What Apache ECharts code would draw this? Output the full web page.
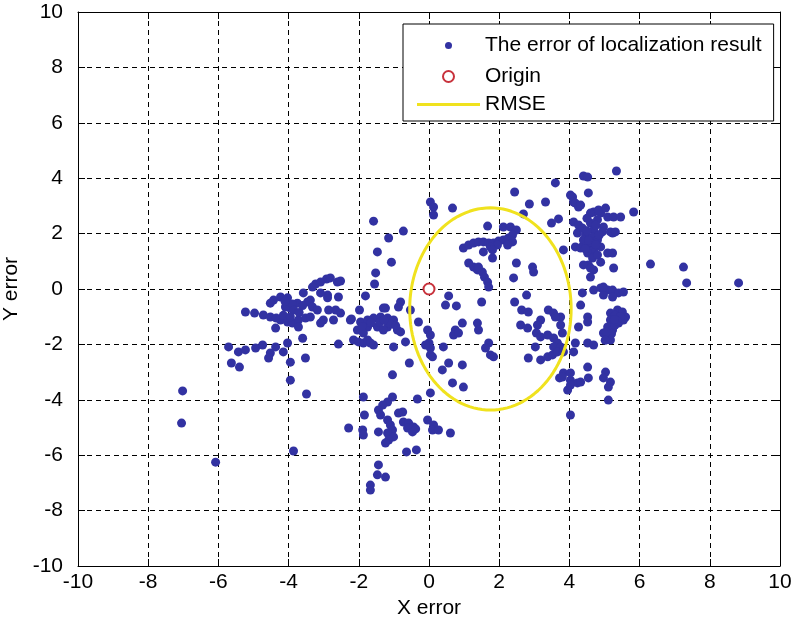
<!DOCTYPE html>
<html>
<head>
<meta charset="utf-8">
<script src="https://cdn.jsdelivr.net/npm/echarts@6/dist/echarts.min.js"></script>
<style>
  html, body { margin: 0; padding: 0; background: #fff; }
  #chart { width: 795px; height: 625px; }
</style>
</head>
<body>
<div id="chart"></div>
<script>
// localization error samples, grouped by region
var leftOutliers = [
  [-7.02,-3.68],[-7.05,-4.84],[-6.08,-6.25],[-3.95,-3.29],[-3.49,-3.79],[-3.86,-5.85]
];
var leftCluster = [
  [-5.71,-2.09],[-5.43,-2.27],[-5.23,-2.20],[-4.94,-2.13],[-4.74,-2.02],[-4.52,-2.31],[-4.37,-2.09],[-4.57,-2.49],
  [-4.03,-1.95],[-4.15,-2.27],[-3.95,-2.64],[-3.52,-2.49],[-5.63,-2.67],[-5.40,-2.82],[-2.58,-1.99],[-2.15,-1.84],
  [-5.23,-0.83],[-4.97,-0.87],[-4.72,-0.94],[-4.52,-1.01],[-4.23,-1.12],[-4.03,-1.19],[-3.89,-1.23],[-3.72,-1.12],
  [-3.52,-1.05],[-4.43,-0.40],[-4.23,-0.29],[-4.03,-0.32],[-3.95,-0.69],[-3.75,-0.51],[-3.58,-0.14],[-3.38,-0.40],
  [-4.52,-0.51],[-4.09,-0.65],[-3.89,-0.54],[-3.46,-0.47],[-3.32,-0.65],[-3.18,-0.76],[-3.86,-0.76],[-3.72,-1.37],
  [-3.38,-1.01],[-4.37,-1.41],[-3.60,-1.78],[-3.01,-1.12],[-3.09,-1.23],[-2.89,-0.22],[-3.09,-0.14],[-2.89,-0.32],
  [-2.66,-0.76],[-2.86,-0.76],[-2.72,-1.12],[-2.52,-0.87],[-2.21,-1.08],[-2.92,0.36],[-2.52,0.29],[-3.23,0.18],
  [-3.09,0.25],[-3.32,0.07],[-2.58,-0.29],[-2.61,0.25],[-2.81,0.40],
  [-4.35,-1.05],[-4.15,-0.95],[-3.70,-0.85],[-3.60,-0.60],[-4.10,-0.45],[-3.95,-1.00]
];
var centerLeft = [
  [-1.07,0.97],[-1.52,0.58],[-1.55,0.18],[-1.81,-0.25],[-0.81,-0.47],[-0.53,-0.76],[-1.24,-0.69],[-1.98,-0.76],
  [-2.24,-1.12],[-1.95,-1.19],[-1.75,-1.12],[-1.58,-1.05],[-1.38,-1.01],[-1.18,-1.05],[-1.01,-1.12],[-1.75,-1.37],
  [-1.47,-1.37],[-1.18,-1.37],[-0.90,-1.48],[-0.81,-1.55],[-2.04,-1.48],[-2.01,-1.91],[-1.87,-1.95],[-1.75,-1.84],
  [-1.58,-2.02],[-1.01,-2.09],[-0.67,-1.91],[-0.56,-2.67],[-1.04,-3.10],[-1.87,-1.59],[-1.67,-1.95],[-1.30,-1.48],
  [-0.87,-0.65],[-1.30,-0.69],[-1.58,2.45],[-0.73,2.09],[-1.15,1.84],[-1.47,1.34],[-0.30,-1.19],[-0.04,-1.48],
  [0.04,-1.66],[0.00,-1.95],[0.04,-2.13],[0.04,-2.38],[0.41,-2.09],[-0.10,-2.02],[0.10,-2.45],
  [-1.65,-1.22],[-1.40,-1.20],[-1.10,-1.25],[-0.95,-1.32],[-1.90,-1.35],[-1.28,-1.12]
];
var insideRmse = [
  [0.04,3.14],[0.13,2.96],[0.13,2.67],[0.67,2.92],[1.67,2.27],[2.12,2.24],[2.32,2.24],[2.49,2.13],
  [0.98,1.48],[1.13,1.59],[1.27,1.66],[1.41,1.70],[1.55,1.70],[1.70,1.66],[1.84,1.66],[1.98,1.73],
  [2.12,1.77],[2.26,1.84],[2.38,1.70],[1.95,1.59],[1.75,1.52],[2.24,1.59],[2.38,1.95],[1.55,1.34],
  [1.81,1.41],[1.81,1.12],[1.27,0.79],[1.38,0.69],[1.52,0.61],[1.58,0.43],[1.67,0.25],[1.70,0.07],
  [1.41,0.79],[1.13,0.94],[2.49,0.94],[2.95,0.79],[2.98,0.61],[2.41,0.40],[2.78,-0.22],[2.44,-0.47],
  [3.83,1.41],[3.60,3.83],[2.44,3.50],[2.86,3.07],[3.32,3.14],[2.69,2.71],[3.49,2.38],[3.69,2.53],
  [0.56,-0.25],[0.47,-0.58],[0.78,-0.61],[1.50,-0.47],[2.64,-0.76],[2.83,-0.83],[3.18,-1.12],[3.40,-0.76],
  [3.55,-0.87],[3.75,-1.01],[3.75,-1.30],[3.09,-1.30],[0.75,-1.48],[0.70,-1.66],[0.84,-1.59],[1.38,-1.23],
  [1.41,-1.48],[2.61,-1.30],[2.81,-1.41],[3.06,-1.59],[3.18,-1.73],[3.38,-1.66],[3.55,-1.77],[3.66,-1.95],
  [3.55,-2.09],[3.75,-2.09],[3.03,-2.09],[1.70,-1.95],[1.61,-2.13],[1.75,-2.38],[1.84,-2.45],[0.56,-2.67],
  [0.38,-2.92],[0.95,-2.74],[0.67,-3.39],[0.98,-3.54],[2.83,-2.49],[3.18,-2.56],[3.38,-2.45],[3.52,-2.38],
  [3.66,-2.27],[0.04,-3.75],[3.72,-3.21],[3.83,-3.03],[0.95,-1.23],[3.60,-1.01],[3.80,-1.59],[3.83,-2.27]
];
var bottomCluster = [
  [-1.87,-3.90],[-1.04,-3.90],[-1.18,-4.08],[-1.32,-4.19],[-1.44,-4.37],[-1.38,-4.55],[-0.33,-3.97],[-0.75,-4.44],
  [-0.87,-4.48],[-1.84,-4.55],[-1.18,-4.73],[-1.10,-4.91],[-1.04,-5.09],[-1.18,-5.20],[-1.01,-5.34],[-1.15,-5.45],
  [-1.24,-5.56],[-0.73,-4.80],[-0.58,-4.84],[-0.44,-4.98],[-0.61,-5.02],[-0.47,-5.16],[-0.38,-5.05],[-1.44,-5.16],
  [-0.04,-4.73],[0.13,-4.91],[0.10,-5.09],[0.27,-5.09],[0.61,-5.20],[-2.29,-5.02],[-1.89,-5.09],[-1.87,-5.27],
  [-0.64,-5.88],[-0.36,-5.81],[-1.44,-6.35],[-1.47,-6.71],[-1.24,-6.79],[-1.67,-7.08],[-1.67,-7.26]
];
var rightCluster = [
  [5.34,4.26],[4.40,4.08],[4.52,4.04],[5.83,2.78],[4.54,3.47],[4.03,3.39],[4.09,3.32],[4.12,3.14],
  [4.17,3.10],[4.26,2.96],[4.32,3.03],[4.69,2.78],[4.89,2.74],[5.09,2.60],[5.26,2.60],[5.46,2.60],
  [4.60,2.74],[4.83,2.85],[5.03,2.92],[4.12,2.42],[4.26,2.31],[4.60,2.38],[4.69,2.13],[4.97,2.24],
  [5.23,2.02],[4.23,2.02],[4.46,1.95],[4.66,1.88],[4.80,1.77],[4.37,2.20],[4.94,2.06],[5.17,2.06],
  [5.31,2.06],[4.17,1.52],[4.40,1.59],[4.54,1.52],[4.69,1.41],[4.89,1.52],[5.09,1.30],[5.23,1.30],
  [4.52,1.30],[4.66,1.12],[4.54,0.87],[4.69,0.69],[4.60,0.43],[5.26,0.76],[4.40,1.77],[4.60,1.70],
  [4.32,1.48],[4.80,1.23],[4.89,0.97],[4.40,0.87],[4.60,0.76],
  [4.50,2.55],[4.80,2.50],[4.75,2.30],[4.50,2.10],[4.85,1.95],[4.55,1.75],[4.75,1.60],[4.45,1.45],
  [4.37,-0.14],[4.32,-0.58],[4.69,-0.04],[4.89,0.04],[5.09,-0.04],[5.23,-0.04],[5.40,-0.14],[5.54,-0.11],
  [4.97,-0.22],[5.23,-0.29],[4.97,0.07],
  [4.52,-1.01],[5.17,-0.87],[5.37,-0.76],[5.51,-0.83],[5.60,-1.01],[5.37,-1.01],[5.17,-1.12],[5.09,-1.37],
  [4.97,-1.59],[5.23,-1.48],[5.40,-1.23],[5.54,-1.12],[5.09,-1.73],[5.17,-1.84],[4.26,-1.37],[4.17,-1.95],
  [4.52,-1.95],[4.69,-2.02],[4.12,-2.27],[4.52,-1.19],
  [5.30,-0.95],[5.45,-1.00],[5.30,-1.30],[5.20,-1.62],[5.05,-1.55],[5.35,-1.15],[5.02,-1.85],[5.28,-1.10],
  [4.52,-2.82],[5.03,-3.00],[4.97,-3.21],[5.17,-3.36],[5.11,-3.54],[4.03,-3.29],[4.23,-3.39],[3.95,-3.65],
  [3.80,-3.18],[4.03,-3.47],[4.32,-3.36],[4.03,-3.03],[4.54,-3.21],[5.11,-4.01],[4.03,-4.55]
];
var rightOutliers = [[6.31,0.90],[7.25,0.79],[7.34,0.22],[8.82,0.22]];

var originPoint = [[0, 0]];
// RMSE ellipse: centre and semi-axes
var rmseCenter = [1.75, -0.72];
var rmseRadius = [2.3, 3.65];

var axisMin = -10, axisMax = 10, axisStep = 2;

var errorPoints = [].concat(leftOutliers, leftCluster, centerLeft, insideRmse, bottomCluster, rightCluster, rightOutliers);

var rmseCurve = [];
for (var i = 0; i <= 120; i++) {
  var t = i / 120 * Math.PI * 2;
  rmseCurve.push([rmseCenter[0] + rmseRadius[0] * Math.cos(t), rmseCenter[1] + rmseRadius[1] * Math.sin(t)]);
}

var font = 'Liberation Sans, Arial, sans-serif';
var ink = '#000';
var dotBlue = '#3232a2';
var yellow = '#f0e21e';

function frameAxis(pos, main) {
  var ax = {
    type: 'value', min: axisMin, max: axisMax, interval: axisStep, position: pos,
    axisLine: { show: true, onZero: false, lineStyle: { color: ink, width: 1 } },
    axisTick: { show: true, inside: true, length: 7, lineStyle: { color: ink, width: 1 } },
    axisLabel: { show: false },
    splitLine: { show: false }
  };
  if (main) {
    ax.axisLabel = { show: true, color: ink, fontSize: 21, fontFamily: font, margin: (pos === 'left' ? 15 : 6) };
    ax.splitLine = { show: true, lineStyle: { color: ink, width: 1, type: [5, 4] } };
  }
  return ax;
}

var xBottom = frameAxis('bottom', true);
xBottom.name = 'X error';
xBottom.nameLocation = 'middle';
xBottom.nameGap = 31;
xBottom.nameTextStyle = { color: ink, fontSize: 21, fontFamily: font };

var yLeft = frameAxis('left', true);
yLeft.name = 'Y error';
yLeft.nameLocation = 'middle';
yLeft.nameGap = 52;
yLeft.nameTextStyle = { color: ink, fontSize: 21, fontFamily: font };

var legendText = { color: ink, fontSize: 21, fontFamily: font };

var chart = echarts.init(document.getElementById('chart'), null, { renderer: 'canvas' });
chart.setOption({
  animation: false,
  backgroundColor: '#fff',
  grid: { left: 78, right: 15, top: 12, bottom: 59, outerBoundsMode: 'none', containLabel: false },
  xAxis: [xBottom, frameAxis('top', false)],
  yAxis: [yLeft, frameAxis('right', false)],
  legend: [
    { data: [{ name: 'The error of localization result', icon: 'circle' }], left: 403, top: 24, orient: 'vertical',
      itemWidth: 63, itemHeight: 7, padding: [11, 12, 65, 42], borderColor: ink, borderWidth: 1,
      backgroundColor: '#fff', textStyle: legendText, selectedMode: false },
    { data: [{ name: 'Origin', icon: 'emptyCircle' }], left: 442, top: 66, padding: 0, itemWidth: 63, itemHeight: 11,
      textStyle: legendText, selectedMode: false },
    { data: [{ name: 'RMSE', icon: 'rect' }], left: 417, top: 94, padding: 0, itemWidth: 63, itemHeight: 3,
      textStyle: legendText, selectedMode: false }
  ],
  series: [
    { name: 'The error of localization result', type: 'scatter', data: errorPoints,
      symbol: 'circle', symbolSize: 9, itemStyle: { color: dotBlue, opacity: 1 } },
    { name: 'Origin', type: 'scatter', data: originPoint, symbol: 'emptyCircle', symbolSize: 11,
      itemStyle: { color: '#c8323c', borderColor: '#c8323c', borderWidth: 1.5, opacity: 1 }, z: 4 },
    { name: 'RMSE', type: 'line', data: rmseCurve, symbol: 'none', smooth: false,
      lineStyle: { color: yellow, width: 3 }, itemStyle: { color: yellow }, z: 3 }
  ]
});
</script>
</body>
</html>
